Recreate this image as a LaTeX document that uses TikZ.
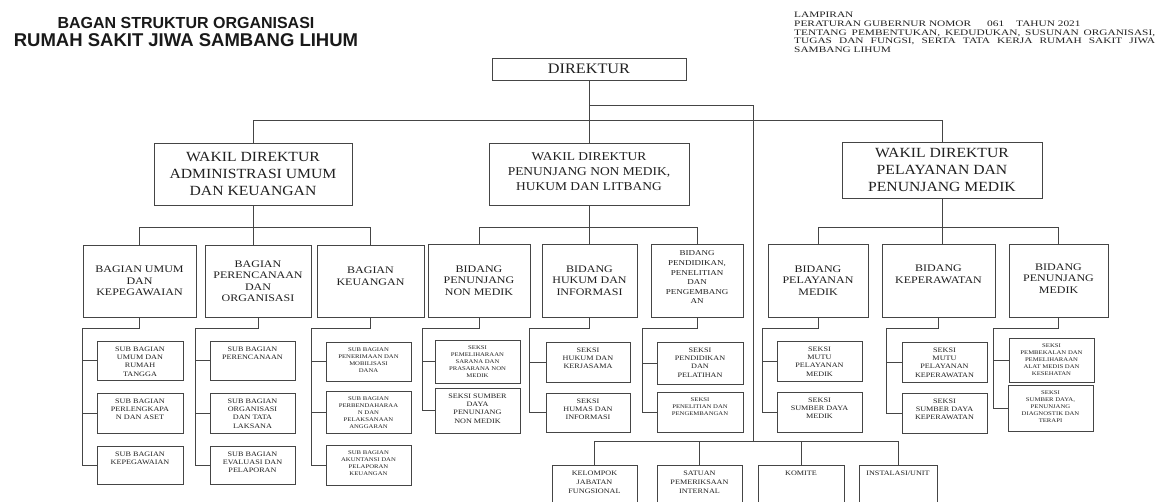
\documentclass[tikz,border=0pt]{standalone}
\usepackage{fontspec}
\setmainfont{Liberation Serif}
\newfontfamily\titlefont{Liberation Sans}
\newfontfamily\lampfont[FakeStretch=1.35]{Liberation Serif}
\newfontfamily\headfont[FakeStretch=1.12]{Liberation Serif}
\newfontfamily\boxfont[FakeStretch=1.2]{Liberation Serif}
\usetikzlibrary{fit}
\definecolor{linegray}{HTML}{454545}
\definecolor{txtgray}{HTML}{202020}
\tikzset{
  box/.style={draw=linegray, line width=0.9pt, inner sep=0pt, fill=white},
  conn/.style={draw=linegray, line width=0.8pt},
  titletxt/.style={text=black!90, inner sep=0pt},
  dirtxt/.style={font=\headfont\fontsize{14.5}{17}\selectfont, text=txtgray, align=center, inner sep=0pt},
  wktxt/.style={font=\headfont\fontsize{14}{16.7}\selectfont, text=txtgray, align=center, inner sep=0pt},
  bgtxt/.style={font=\boxfont\fontsize{10}{11.5}\selectfont, text=txtgray, align=center, inner sep=0pt},
  subtxt/.style={font=\boxfont\fontsize{6.8}{8.3}\selectfont, text=txtgray, align=center, anchor=north, inner sep=0pt, yshift=-6pt},
  smtxt/.style={font=\boxfont\fontsize{5.6}{6.8}\selectfont, text=txtgray, align=center, anchor=north, inner sep=0pt, yshift=-6.5pt},
}
\begin{document}
\begin{tikzpicture}[x=1pt, y=-1pt]
\clip (0,0) rectangle (1165,502);
\fill[white] (0,0) rectangle (1165,502);

% judul
\node[titletxt, font=\titlefont\bfseries\fontsize{16}{18}\selectfont] (judul1) at (186,22.5) {BAGAN STRUKTUR ORGANISASI};
\node[titletxt, font=\titlefont\bfseries\fontsize{18.5}{20}\selectfont] (judul2) at (186,40) {RUMAH SAKIT JIWA SAMBANG LIHUM};
\node[anchor=north west, inner sep=0pt, align=left, text=txtgray, font=\lampfont\fontsize{8.4}{8.9}\selectfont] (lampiran) at (794,11.5)
  {LAMPIRAN\\
   PERATURAN GUBERNUR NOMOR\hspace{16pt}061\hspace{12pt}TAHUN 2021\\
   \makebox[361pt][s]{TENTANG PEMBENTUKAN, KEDUDUKAN, SUSUNAN ORGANISASI,}\\
   \makebox[361pt][s]{TUGAS DAN FUNGSI, SERTA TATA KERJA RUMAH SAKIT JIWA}\\
   SAMBANG LIHUM};

% pimpinan
\node[box, fit={(492,58)(686,80)}] (dir) {};
\node[dirtxt] (dirt) at (dir) {DIREKTUR};
\node[box, fit={(154,143)(352,205)}] (wadm) {};
\node[wktxt] (wadmt) at (wadm) {WAKIL DIREKTUR\\ADMINISTRASI UMUM\\DAN KEUANGAN};
\node[box, fit={(489,143)(689,205)}] (wnm) {};
\node[wktxt, font=\headfont\fontsize{12}{15}\selectfont, yshift=2pt] (wnmt) at (wnm) {WAKIL DIREKTUR\\PENUNJANG NON MEDIK,\\HUKUM DAN LITBANG};
\node[box, fit={(842,142)(1042,198)}] (wpel) {};
\node[wktxt] (wpelt) at (wpel) {WAKIL DIREKTUR\\PELAYANAN DAN\\PENUNJANG MEDIK};

% bagian dan bidang
\node[box, fit={(83,245)(196,317)}] (bgum) {};
\node[bgtxt] (bgumt) at (bgum) {BAGIAN UMUM\\DAN\\KEPEGAWAIAN};
\node[box, fit={(205,245)(311,317)}] (bgren) {};
\node[bgtxt] (bgrent) at (bgren) {BAGIAN\\PERENCANAAN\\DAN\\ORGANISASI};
\node[box, fit={(317,245)(424,317)}] (bgkeu) {};
\node[bgtxt, yshift=5pt] (bgkeut) at (bgkeu) {BAGIAN\\KEUANGAN};
\node[box, fit={(428,244)(530,317)}] (bdnm) {};
\node[bgtxt] (bdnmt) at (bdnm) {BIDANG\\PENUNJANG\\NON MEDIK};
\node[box, fit={(542,244)(637,317)}] (bdhk) {};
\node[bgtxt] (bdhkt) at (bdhk) {BIDANG\\HUKUM DAN\\INFORMASI};
\node[box, fit={(651,244)(743,317)}] (bddk) {};
\node[bgtxt, font=\boxfont\fontsize{7.5}{9.6}\selectfont, yshift=3pt] (bddkt) at (bddk) {BIDANG\\PENDIDIKAN,\\PENELITIAN\\DAN\\PENGEMBANG\\AN};
\node[box, fit={(768,244)(868,317)}] (bdpl) {};
\node[bgtxt] (bdplt) at (bdpl) {BIDANG\\PELAYANAN\\MEDIK};
\node[box, fit={(882,244)(995,317)}] (bdkp) {};
\node[bgtxt, yshift=6pt] (bdkpt) at (bdkp) {BIDANG\\KEPERAWATAN};
\node[box, fit={(1009,244)(1108,317)}] (bdpm) {};
\node[bgtxt, yshift=2pt] (bdpmt) at (bdpm) {BIDANG\\PENUNJANG\\MEDIK};

% sub bagian
\node[box, fit={(97,341)(183,380)}] (sbu1) {};
\node[subtxt] (sbu1t) at (sbu1.north) {SUB BAGIAN\\UMUM DAN\\RUMAH\\TANGGA};
\node[box, fit={(97,393)(183,433)}] (sbu2) {};
\node[subtxt] (sbu2t) at (sbu2.north) {SUB BAGIAN\\PERLENGKAPA\\N DAN ASET};
\node[box, fit={(97,446)(183,484)}] (sbu3) {};
\node[subtxt] (sbu3t) at (sbu3.north) {SUB BAGIAN\\KEPEGAWAIAN};
\node[box, fit={(210,341)(295,380)}] (sbr1) {};
\node[subtxt] (sbr1t) at (sbr1.north) {SUB BAGIAN\\PERENCANAAN};
\node[box, fit={(210,393)(295,433)}] (sbr2) {};
\node[subtxt] (sbr2t) at (sbr2.north) {SUB BAGIAN\\ORGANISASI\\DAN TATA\\LAKSANA};
\node[box, fit={(210,446)(295,484)}] (sbr3) {};
\node[subtxt] (sbr3t) at (sbr3.north) {SUB BAGIAN\\EVALUASI DAN\\PELAPORAN};
\node[box, fit={(326,342)(411,381)}] (sbk1) {};
\node[smtxt] (sbk1t) at (sbk1.north) {SUB BAGIAN\\PENERIMAAN DAN\\MOBILISASI\\DANA};
\node[box, fit={(326,391)(411,433)}] (sbk2) {};
\node[smtxt] (sbk2t) at (sbk2.north) {SUB BAGIAN\\PERBENDAHARAA\\N DAN\\PELAKSANAAN\\ANGGARAN};
\node[box, fit={(326,445)(411,485)}] (sbk3) {};
\node[smtxt] (sbk3t) at (sbk3.north) {SUB BAGIAN\\AKUNTANSI DAN\\PELAPORAN\\KEUANGAN};

% seksi
\node[box, fit={(435,340)(520,383)}] (snm1) {};
\node[smtxt] (snm1t) at (snm1.north) {SEKSI\\PEMELIHARAAN\\SARANA DAN\\PRASARANA NON\\MEDIK};
\node[box, fit={(435,388)(520,433)}] (snm2) {};
\node[subtxt] (snm2t) at (snm2.north) {SEKSI SUMBER\\DAYA\\PENUNJANG\\NON MEDIK};
\node[box, fit={(546,342)(630,382)}] (shk1) {};
\node[subtxt] (shk1t) at (shk1.north) {SEKSI\\HUKUM DAN\\KERJASAMA};
\node[box, fit={(546,393)(630,432)}] (shk2) {};
\node[subtxt] (shk2t) at (shk2.north) {SEKSI\\HUMAS DAN\\INFORMASI};
\node[box, fit={(657,342)(743,384)}] (sdk1) {};
\node[subtxt] (sdk1t) at (sdk1.north) {SEKSI\\PENDIDIKAN\\DAN\\PELATIHAN};
\node[box, fit={(657,392)(743,432)}] (sdk2) {};
\node[smtxt] (sdk2t) at (sdk2.north) {SEKSI\\PENELITIAN DAN\\PENGEMBANGAN};
\node[box, fit={(777,341)(862,381)}] (spl1) {};
\node[subtxt] (spl1t) at (spl1.north) {SEKSI\\MUTU\\PELAYANAN\\MEDIK};
\node[box, fit={(777,392)(862,432)}] (spl2) {};
\node[subtxt] (spl2t) at (spl2.north) {SEKSI\\SUMBER DAYA\\MEDIK};
\node[box, fit={(902,342)(987,382)}] (skp1) {};
\node[subtxt] (skp1t) at (skp1.north) {SEKSI\\MUTU\\PELAYANAN\\KEPERAWATAN};
\node[box, fit={(902,393)(987,433)}] (skp2) {};
\node[subtxt] (skp2t) at (skp2.north) {SEKSI\\SUMBER DAYA\\KEPERAWATAN};
\node[box, fit={(1009,338)(1094,382)}] (spm1) {};
\node[smtxt] (spm1t) at (spm1.north) {SEKSI\\PEMBEKALAN DAN\\PEMELIHARAAN\\ALAT MEDIS DAN\\KESEHATAN};
\node[box, fit={(1008,385)(1093,431)}] (spm2) {};
\node[smtxt] (spm2t) at (spm2.north) {SEKSI\\SUMBER DAYA,\\PENUNJANG\\DIAGNOSTIK DAN\\TERAPI};

% kelompok dan unit
\node[box, fit={(552,465)(637,510)}] (kjf) {};
\node[subtxt, font=\boxfont\fontsize{6.8}{9}\selectfont] (kjft) at (kjf.north) {KELOMPOK\\JABATAN\\FUNGSIONAL};
\node[box, fit={(657,465)(742,510)}] (spi) {};
\node[subtxt, font=\boxfont\fontsize{6.8}{9}\selectfont] (spit) at (spi.north) {SATUAN\\PEMERIKSAAN\\INTERNAL};
\node[box, fit={(758,465)(844,510)}] (kom) {};
\node[subtxt] (komt) at (kom.north) {KOMITE};
\node[box, fit={(859,465)(937,510)}] (inst) {};
\node[subtxt] (instt) at (inst.north) {INSTALASI/UNIT};

% garis
\coordinate (jt) at (753,105);
\coordinate (jb) at (753,442);
\draw[conn] (dir.south) -- (wnm.north);
\draw[conn] (dir.south |- jt) -- (jt) -- (jb);
\draw[conn] (wadm.north) -- ++(0,-22) -| (wpel.north);
\draw[conn] (wadm.south) -- (wadm.south |- bgren.north);
\draw[conn] (bgum.north) -- ++(0,-17) -| (bgkeu.north);
\draw[conn] (wnm.south) -- (wnm.south |- bdhk.north);
\draw[conn] (bdnm.north) -- ++(0,-16) -| (bddk.north);
\draw[conn] (wpel.south) -- (wpel.south |- bdkp.north);
\draw[conn] (bdpl.north) -- ++(0,-16) -| (bdpm.north);
\draw[conn] (kjf.north) -- ++(0,-23) -| (inst.north);
\draw[conn] (spi.north) -- ++(0,-23);
\draw[conn] (kom.north) -- ++(0,-23);

\draw[conn] (bgum.south) -- ++(0,11) -| ([xshift=-14pt]sbu3.west) -- (sbu3.west);
\draw[conn] ([xshift=-14pt]sbu1.west) -- (sbu1.west);
\draw[conn] ([xshift=-14pt]sbu2.west) -- (sbu2.west);
\draw[conn] (bgren.south) -- ++(0,11) -| ([xshift=-14pt]sbr3.west) -- (sbr3.west);
\draw[conn] ([xshift=-14pt]sbr1.west) -- (sbr1.west);
\draw[conn] ([xshift=-14pt]sbr2.west) -- (sbr2.west);
\draw[conn] (bgkeu.south) -- ++(0,11) -| ([xshift=-14pt]sbk3.west) -- (sbk3.west);
\draw[conn] ([xshift=-14pt]sbk1.west) -- (sbk1.west);
\draw[conn] ([xshift=-14pt]sbk2.west) -- (sbk2.west);
\draw[conn] (bdnm.south) -- ++(0,11) -| ([xshift=-12pt]snm2.west) -- (snm2.west);
\draw[conn] ([xshift=-12pt]snm1.west) -- (snm1.west);
\draw[conn] (bdhk.south) -- ++(0,11) -| ([xshift=-16pt]shk2.west) -- (shk2.west);
\draw[conn] ([xshift=-16pt]shk1.west) -- (shk1.west);
\draw[conn] (bddk.south) -- ++(0,11) -| ([xshift=-14pt]sdk2.west) -- (sdk2.west);
\draw[conn] ([xshift=-14pt]sdk1.west) -- (sdk1.west);
\draw[conn] (bdpl.south) -- ++(0,11) -| ([xshift=-14pt]spl2.west) -- (spl2.west);
\draw[conn] ([xshift=-14pt]spl1.west) -- (spl1.west);
\draw[conn] (bdkp.south) -- ++(0,11) -| ([xshift=-15pt]skp2.west) -- (skp2.west);
\draw[conn] ([xshift=-15pt]skp1.west) -- (skp1.west);
\draw[conn] (bdpm.south) -- ++(0,11) -| ([xshift=-14pt]spm2.west) -- (spm2.west);
\draw[conn] ([xshift=-15pt]spm1.west) -- (spm1.west);
\end{tikzpicture}
\end{document}
